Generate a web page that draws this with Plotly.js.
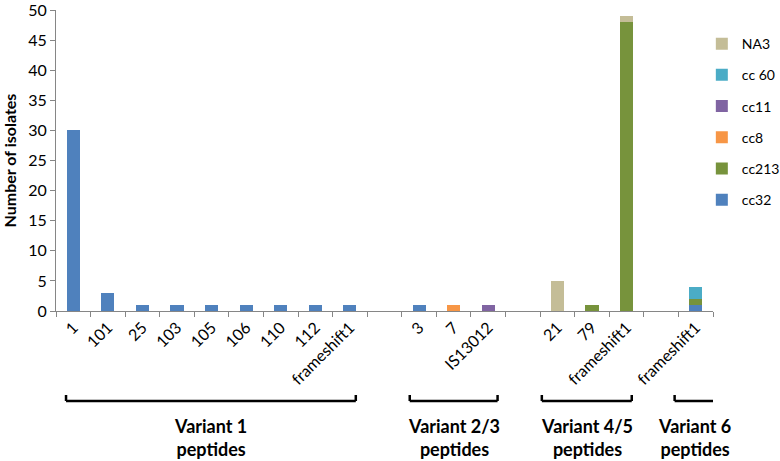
<!DOCTYPE html>
<html><head><meta charset="utf-8">
<script src="https://cdn.plot.ly/plotly-3.0.1.min.js"></script>
<style>body{margin:0;background:#fff}#c{width:780px;height:461px}</style>
</head><body><div id="c"></div>
<script>
// category keys (unique) and displayed tick labels
const categories = ['1','101','25','103','105','106','110','112','v1_fs','gap1','3','7','IS13012','gap2','21','79','v45_fs','gap3','v6_fs'];
const tickLabels = ['1','101','25','103','105','106','110','112','frameshift1','','3','7','IS13012','','21','79','frameshift1','','frameshift1'];

const cc32  = [30,3,1,1,1,1,1,1,1,0,1,0,0,0,0,0,0,0,1];
const cc213 = [0,0,0,0,0,0,0,0,0,0,0,0,0,0,0,1,48,0,1];
const cc8   = [0,0,0,0,0,0,0,0,0,0,0,1,0,0,0,0,0,0,0];
const cc11  = [0,0,0,0,0,0,0,0,0,0,0,0,1,0,0,0,0,0,0];
const cc60  = [0,0,0,0,0,0,0,0,0,0,0,0,0,0,0,0,0,0,2];
const NA3   = [0,0,0,0,0,0,0,0,0,0,0,0,0,0,5,0,1,0,0];

const seriesNames = ['cc32','cc213','cc8','cc11','cc 60','NA3'];
const seriesValues = [cc32, cc213, cc8, cc11, cc60, NA3];
const seriesColors = ['#4F81BD','#77933C','#F79646','#8064A2','#4BACC6','#C4BD97'];

const yTicks = [0,5,10,15,20,25,30,35,40,45,50];

const groupLabels = ['Variant 1<br>peptides','Variant 2/3<br>peptides','Variant 4/5<br>peptides','Variant 6<br>peptides'];
const groupStart = [-0.21, 9.73, 13.55, 17.39];
const groupEnd   = [8.17, 12.27, 16.15, 18.55];

const FONT = 'Lato, "Open Sans", sans-serif';

const traces = seriesNames.map((n,i)=>({
  type:'bar', name:n, x:categories, y:seriesValues[i],
  marker:{color:seriesColors[i], line:{width:0}},
  legendgroup:n, legendrank:100-i*10
}));

const shapes = [];
const annotations = [];
groupLabels.forEach((g,i)=>{
  const a=groupStart[i], b=groupEnd[i];
  const yb=-0.299, yt=-0.279;
  shapes.push({type:'line',xref:'x',yref:'paper',x0:a,x1:b,y0:yb,y1:yb,line:{color:'#000',width:2.5}});
  shapes.push({type:'line',xref:'x',yref:'paper',x0:a,x1:a,y0:yb,y1:yt,line:{color:'#000',width:2.5}});
  shapes.push({type:'line',xref:'x',yref:'paper',x0:b,x1:b,y0:yb,y1:yt,line:{color:'#000',width:2.5}});
  annotations.push({xref:'x',yref:'paper',x:(a+b)/2,y:-0.339,yanchor:'top',showarrow:false,
    text:'<b>'+g+'</b>',font:{size:18,color:'#000',family:FONT}});
});

const layout = {
  width:780,height:461,
  margin:{l:56,r:67,t:10,b:150,autoexpand:false},
  paper_bgcolor:'#fff',plot_bgcolor:'#fff',
  barmode:'stack',bargap:0.62,
  font:{family:FONT,size:15,color:'#000'},
  showlegend:true,
  legend:{x:0.983,y:0.94,xanchor:'left',yanchor:'top',traceorder:'grouped',tracegroupgap:10,
    font:{size:14,color:'#000'},bgcolor:'rgba(0,0,0,0)'},
  xaxis:{type:'category',categoryorder:'array',categoryarray:categories,
    tickvals:categories,ticktext:tickLabels,tickangle:-45,automargin:false,
    ticks:'outside',tickson:'boundaries',ticklen:5,tickcolor:'#868686',
    showline:true,linecolor:'#868686',linewidth:1,showgrid:false,zeroline:false,
    range:[-0.5,18.5],tickfont:{size:16,color:'#000'},ticklabeloverflow:'allow'},
  yaxis:{range:[0,50],tickvals:yTicks,ticks:'outside',ticklen:5,tickcolor:'#868686',automargin:false,
    showline:true,linecolor:'#868686',linewidth:1,showgrid:false,zeroline:false,
    tickfont:{size:16,color:'#000'},ticklabeloverflow:'allow',
    title:{text:'<b>Number of isolates</b>',font:{size:16,color:'#000'},standoff:8}},
  shapes:shapes,annotations:annotations
};
Plotly.newPlot('c',traces,layout,{displayModeBar:false,staticPlot:true});
</script></body></html>
